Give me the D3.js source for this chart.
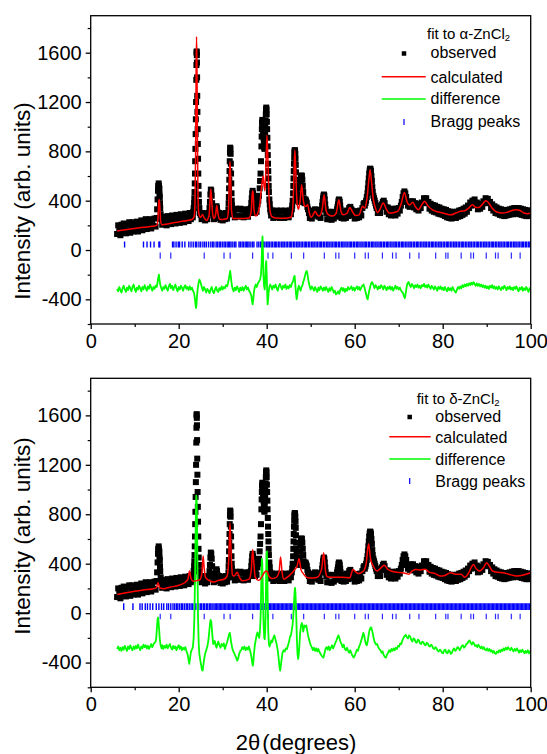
<!DOCTYPE html>
<html><head><meta charset="utf-8">
<script src="https://cdn.jsdelivr.net/npm/d3@7"></script>
<style>body{margin:0;background:#fff} text{font-family:"Liberation Sans",Arial,Helvetica,sans-serif;fill:#000}</style>
</head><body><svg id="c" width="547" height="754"></svg>
<script>
const xTicks = [0,20,40,60,80,100];
const xMinor = [10,30,50,70,90];
const yTicks = [-400,0,400,800,1200,1600];
const yMinor = [-600,-200,200,600,1000,1400,1800];
const legendLabels = ["observed","calculated","difference","Bragg peaks"];
const phaseNames = ["α","δ"];

// observed intensity (same measurement in both panels): [2theta, counts]
const observed = [[6,130],[6.25,200],[6.5,165],[6.75,120],[7,205],[7.25,150],[7.5,215],[7.75,170],[8,135],[8.25,210],[8.5,160],[8.75,225],[9,140],[9.25,195],[9.5,225],[9.75,150],[10,210],[10.25,165],[10.5,230],[10.75,150],[11,215],[11.25,175],[11.5,240],[11.75,160],[12,225],[12.25,180],[12.5,250],[12.75,170],[13,235],[13.25,190],[13.5,250],[13.75,175],[14,235],[14.25,195],[14.5,255],[14.75,190],
[15,260],[15.1,330],[15.2,410],[15.3,480],[15.35,520],[15.4,500],[15.45,540],[15.5,520],[15.55,490],[15.6,500],[15.65,450],[15.7,430],[15.75,380],[15.8,340],[15.9,290],[16,250],
[16.25,205],[16.5,270],[16.75,215],[17,260],[17.25,200],[17.5,275],[17.75,225],[18,265],[18.25,210],[18.5,280],[18.75,230],[19,270],[19.25,215],[19.5,285],[19.75,235],[20,275],[20.25,220],[20.5,290],[20.75,240],[21,280],[21.25,225],[21.5,295],[21.75,245],[22,285],[22.25,235],[22.5,300],[22.75,250],[23,290],[23.2,265],
[23.3,310],[23.4,340],[23.5,380],[23.55,420],[23.6,470],[23.65,540],[23.7,620],[23.75,720],[23.8,820],[23.85,940],[23.9,1060],[23.95,1200],[24,1380],[24.03,1500],[24.06,1600],[24.09,1610],[24.12,1580],[24.15,1520],[24.18,1400],[24.21,1250],[24.25,1120],[24.3,980],[24.35,860],[24.4,740],[24.45,620],[24.5,520],[24.55,450],[24.6,390],[24.7,340],[24.8,300],
[25,285],[25.2,250],[25.4,300],[25.6,255],[25.8,295],[26,240],[26.25,290],[26.5,250],[26.75,300],
[27,340],[27.1,390],[27.2,450],[27.3,490],[27.4,480],[27.5,440],[27.6,380],[27.7,320],[27.85,280],
[28,250],[28.2,300],[28.4,320],[28.5,345],[28.6,355],[28.7,340],[28.8,310],[29,260],[29.25,300],[29.5,245],[29.75,295],[30,240],[30.25,290],[30.5,250],[30.75,300],[31,255],[31.15,290],
[31.3,330],[31.35,380],[31.4,430],[31.45,500],[31.5,570],[31.55,640],[31.6,720],[31.65,790],[31.7,830],[31.75,820],[31.8,780],[31.85,700],[31.9,620],[31.95,540],[32,460],[32.05,400],[32.1,360],[32.2,320],[32.3,290],
[32.5,320],[32.75,265],[33,335],[33.25,280],[33.5,330],[33.75,270],[34,335],[34.25,275],[34.5,325],[34.75,265],[35,330],[35.25,280],[35.5,320],[35.75,270],[36,330],[36.2,300],
[36.4,340],[36.5,380],[36.6,420],[36.7,460],[36.8,480],[36.9,460],[37,420],[37.1,370],[37.2,330],[37.35,300],
[37.5,340],[37.7,310],[37.9,370],[38.1,400],[38.25,440],[38.4,500],[38.5,560],[38.6,620],[38.7,720],[38.8,840],[38.85,920],[38.9,980],[38.95,1030],[39,1055],[39.05,1040],[39.1,1010],[39.15,990],[39.2,960],[39.25,940],[39.3,910],[39.35,880],[39.4,850],[39.45,830],[39.5,820],[39.55,850],[39.6,900],[39.65,950],[39.7,1000],[39.75,1050],[39.8,1100],[39.85,1140],[39.9,1155],[39.95,1140],[40,1100],[40.05,1040],[40.1,980],[40.15,910],[40.2,840],[40.25,770],[40.3,700],[40.35,640],[40.4,580],[40.45,520],[40.5,470],[40.6,410],[40.7,370],[40.8,330],[40.9,310],[41,280],
[41.25,320],[41.5,260],[41.75,315],[42,265],[42.25,320],[42.5,270],[42.75,315],[43,260],[43.25,320],[43.5,265],[43.75,310],[44,260],[44.25,320],[44.5,270],[44.75,315],[45,265],[45.25,320],[45.5,290],
[45.7,330],[45.8,360],[45.9,400],[46,460],[46.05,520],[46.1,580],[46.15,640],[46.2,700],[46.25,750],[46.3,790],[46.35,805],[46.4,810],[46.45,800],[46.5,780],[46.55,740],[46.6,690],[46.65,630],[46.7,570],[46.75,520],[46.8,480],[46.9,440],[47,420],[47.1,400],[47.2,410],[47.3,390],[47.4,420],[47.5,450],[47.6,500],[47.7,550],[47.8,590],[47.9,605],[48,600],[48.1,570],[48.2,520],[48.3,470],[48.4,420],[48.5,390],[48.6,380],[48.7,400],[48.8,410],[48.9,400],[49,390],[49.1,380],[49.25,350],[49.4,330],
[49.6,300],[49.8,260],[50,310],[50.25,255],[50.5,320],[50.75,280],[51,330],[51.25,290],[51.5,325],[51.75,270],[52,300],[52.25,260],
[52.5,330],[52.6,360],[52.7,390],[52.8,420],[52.9,440],[53,450],[53.1,440],[53.2,410],[53.3,370],[53.4,330],[53.55,300],
[53.75,250],[54,310],[54.25,250],[54.5,305],[54.75,245],[55,310],[55.25,255],[55.5,305],[55.75,270],
[56,330],[56.1,350],[56.2,370],[56.3,395],[56.4,410],[56.5,405],[56.6,390],[56.7,360],[56.8,330],[56.9,310],
[57,260],[57.25,310],[57.5,255],[57.75,310],[58,260],[58.25,320],[58.5,275],[58.75,340],[59,350],[59.2,330],[59.4,320],[59.6,280],[59.8,310],[60,255],[60.25,310],[60.5,260],[60.75,315],[61,265],[61.25,320],[61.5,280],[61.75,340],
[62,370],[62.15,380],[62.3,360],[62.45,380],[62.6,400],[62.75,430],[62.9,460],[63,500],[63.1,540],[63.2,580],[63.3,620],[63.4,645],[63.5,660],[63.6,655],[63.7,640],[63.8,600],[63.9,560],[64,510],[64.1,470],[64.25,440],[64.4,420],[64.55,400],[64.7,380],[64.85,360],[65,340],
[65.25,300],[65.5,340],[65.75,300],[66,350],[66.2,370],[66.4,390],[66.6,400],[66.8,380],[67,350],[67.25,310],[67.5,345],[67.75,290],[68,330],[68.25,280],[68.5,335],[68.75,285],[69,330],[69.25,280],[69.5,335],[69.75,295],[70,340],
[70.25,320],[70.5,360],[70.7,390],[70.9,430],[71.1,460],[71.3,475],[71.5,460],[71.7,430],[71.9,390],[72.1,360],
[72.25,390],[72.5,350],[72.75,395],[73,370],[73.25,395],[73.5,345],[73.75,380],[74,330],[74.25,375],[74.5,320],[74.75,370],[75,340],[75.25,385],[75.5,380],[75.75,420],[76,405],[76.25,420],[76.5,380],[76.75,390],[77,335],
[77.25,375],[77.5,320],[77.75,365],[78,310],[78.25,360],[78.5,305],[78.75,350],[79,295],[79.25,345],[79.5,290],[79.75,335],[80,285],[80.25,330],[80.5,275],[80.75,325],[81,265],[81.25,315],[81.5,260],[81.75,310],[82,255],[82.25,305],[82.5,265],[82.75,310],[83,260],[83.25,310],[83.5,270],[83.75,320],[84,275],[84.25,325],[84.5,285],[84.75,335],[85,295],
[85.25,345],[85.5,310],[85.75,360],[86,340],[86.25,385],[86.5,360],[86.75,400],[87,370],[87.25,410],[87.5,365],[87.75,385],[88,330],[88.25,370],[88.5,335],[88.75,375],[89,350],[89.25,395],[89.5,380],[89.75,420],[90,395],[90.25,415],[90.5,380],[90.75,390],[91,340],
[91.25,370],[91.5,320],[91.75,355],[92,300],[92.25,345],[92.5,295],[92.75,335],[93,285],[93.25,330],[93.5,280],[93.75,325],[94,275],[94.25,320],[94.5,280],[94.75,325],[95,285],[95.25,330],[95.5,290],[95.75,335],[96,290],[96.25,340],[96.5,295],[96.75,340],[97,295],[97.25,340],[97.5,290],[97.75,335],[98,285],[98.25,330],[98.5,280],[98.75,325],[99,275],[99.25,320],[99.5,275],[99.75,320],[100,280]];

// calculated profile, fit to alpha-ZnCl2
const calcAlpha = [[6,155],[8,165],[10,175],[12,185],[14,192],[15,200],[15.3,260],[15.5,400],[15.6,410],[15.75,330],[15.9,230],[16.2,205],[18,215],[20,228],[22,240],[23,247],[23.5,270],[23.7,380],[23.85,800],[23.95,1400],[24.05,1730],[24.15,1500],[24.25,900],[24.4,420],[24.6,290],[25,265],[25.4,287],[25.8,260],[26.3,240],[26.9,280],[27.15,420],[27.3,495],[27.45,430],[27.7,300],[28,255],[28.4,290],[28.65,360],[28.9,300],[29.3,250],[30,248],[31,255],[31.3,320],[31.5,560],[31.65,720],[31.8,600],[32,320],[32.4,255],[34,255],[36,260],[36.5,320],[36.75,480],[36.9,470],[37.1,330],[37.5,275],[38,300],[38.4,360],[38.8,500],[39,560],[39.2,600],[39.4,520],[39.6,480],[39.85,700],[40.05,930],[40.25,760],[40.5,450],[40.8,310],[41.2,270],[42,260],[44,258],[45.5,265],[45.9,330],[46.2,600],[46.4,810],[46.6,640],[46.9,380],[47.2,330],[47.6,400],[47.95,530],[48.25,420],[48.6,355],[49,355],[49.3,370],[49.7,300],[50.1,265],[50.6,290],[51,315],[51.4,290],[51.9,275],[52.6,330],[53.05,448],[53.5,320],[54,287],[55,275],[55.8,300],[56.4,408],[56.9,310],[57.4,285],[58.3,300],[58.9,345],[59.5,310],[60.2,279],[61,285],[61.8,354],[62.3,340],[62.8,420],[63.3,600],[63.5,650],[63.8,560],[64.2,420],[64.6,354],[65.2,305],[65.6,320],[66.5,381],[67.2,330],[67.8,300],[69,305],[69.8,315],[70.6,380],[71.3,467],[71.9,390],[72.5,365],[73.2,387],[73.8,350],[74.5,327],[75.3,370],[75.9,395],[76.6,360],[77.7,325],[78.8,310],[80,300],[81,290],[81.8,285],[83,300],[84,314],[85,318],[85.9,340],[86.8,368],[87.5,345],[88.2,345],[89,370],[89.8,400],[90.5,380],[91.2,340],[92.2,310],[93.5,300],[94.5,305],[95.3,315],[96.7,327],[97.6,320],[98.5,300],[99.3,295],[100,300]];

// difference curve (offset), fit to alpha-ZnCl2
const diffAlpha = [[6,-315],[6.25,-335],[6.5,-300],[6.75,-325],[7,-345],[7.25,-310],[7.5,-290],[7.75,-320],[8,-340],[8.25,-305],[8.5,-325],[8.75,-290],[9,-310],[9.25,-335],[9.5,-300],[9.75,-280],[10,-315],[10.25,-340],[10.5,-305],[10.75,-320],[11,-290],[11.25,-310],[11.5,-335],[11.75,-300],[12,-320],[12.25,-285],[12.5,-310],[12.75,-330],[13,-295],[13.25,-315],[13.5,-280],[13.75,-305],[14,-330],[14.25,-300],[14.5,-315],[14.75,-290],[15,-300],[15.2,-260],[15.4,-215],[15.5,-200],[15.6,-230],[15.8,-280],[16,-305],[16.25,-330],[16.5,-300],[16.75,-315],[17,-285],[17.25,-310],[17.5,-330],[17.75,-295],[18,-275],[18.25,-310],[18.5,-290],[18.75,-325],[19,-300],[19.25,-280],[19.5,-315],[19.75,-335],[20,-300],[20.25,-320],[20.5,-290],[20.75,-305],[21,-330],[21.25,-300],[21.5,-285],[21.75,-315],[22,-300],[22.25,-325],[22.5,-295],[22.75,-320],[23,-305],[23.25,-330],[23.5,-350],[23.7,-400],[23.85,-450],[23.95,-470],[24.05,-440],[24.15,-380],[24.3,-320],[24.5,-270],[24.7,-240],[24.9,-255],[25.1,-280],[25.3,-310],[25.5,-330],[25.75,-300],[26,-320],[26.25,-345],[26.5,-315],[26.75,-330],[27,-350],[27.25,-320],[27.5,-300],[27.75,-335],[28,-350],[28.25,-320],[28.5,-300],[28.75,-330],[29,-340],[29.25,-310],[29.5,-325],[29.75,-295],[30,-320],[30.25,-300],[30.5,-310],[30.75,-285],[31,-295],[31.2,-270],[31.4,-235],[31.6,-190],[31.7,-170],[31.8,-200],[31.95,-250],[32.1,-290],[32.3,-320],[32.5,-335],[32.75,-305],[33,-325],[33.25,-295],[33.5,-315],[33.75,-340],[34,-305],[34.25,-325],[34.5,-300],[34.75,-330],[35,-310],[35.25,-290],[35.5,-320],[35.75,-305],[36,-330],[36.25,-345],[36.5,-370],[36.65,-410],[36.8,-440],[36.95,-400],[37.1,-340],[37.3,-300],[37.5,-280],[37.75,-300],[38,-270],[38.25,-255],[38.5,-240],[38.7,-200],[38.85,-100],[38.95,50],[39.05,110],[39.15,-20],[39.25,-200],[39.4,-290],[39.55,-320],[39.7,-220],[39.8,-120],[39.9,-90],[40,-200],[40.1,-330],[40.2,-440],[40.3,-410],[40.45,-340],[40.6,-300],[40.8,-280],[41,-295],[41.25,-320],[41.5,-290],[41.75,-305],[42,-280],[42.25,-310],[42.5,-330],[42.75,-295],[43,-275],[43.25,-300],[43.5,-320],[43.75,-290],[44,-305],[44.25,-280],[44.5,-315],[44.75,-295],[45,-310],[45.25,-285],[45.5,-300],[45.75,-270],[46,-250],[46.2,-220],[46.35,-210],[46.5,-280],[46.65,-350],[46.8,-400],[46.95,-370],[47.1,-320],[47.3,-290],[47.5,-310],[47.7,-330],[47.9,-300],[48.1,-290],[48.3,-260],[48.5,-240],[48.7,-210],[48.9,-180],[49.1,-170],[49.25,-190],[49.4,-230],[49.6,-270],[49.8,-300],[50,-320],[50.25,-295],[50.5,-310],[50.75,-330],[51,-300],[51.25,-320],[51.5,-340],[51.75,-305],[52,-325],[52.25,-295],[52.5,-310],[52.75,-330],[53,-305],[53.25,-325],[53.5,-300],[53.75,-320],[54,-340],[54.25,-310],[54.5,-330],[54.75,-300],[55,-320],[55.25,-345],[55.5,-330],[55.75,-360],[56,-350],[56.25,-335],[56.5,-355],[56.75,-320],[57,-305],[57.25,-330],[57.5,-310],[57.75,-340],[58,-315],[58.25,-330],[58.5,-300],[58.75,-320],[59,-310],[59.25,-295],[59.5,-325],[59.75,-305],[60,-330],[60.25,-310],[60.5,-295],[60.75,-320],[61,-300],[61.25,-325],[61.5,-305],[61.75,-290],[62,-280],[62.2,-300],[62.4,-330],[62.6,-360],[62.8,-390],[62.95,-400],[63.1,-370],[63.3,-330],[63.5,-300],[63.7,-275],[63.9,-260],[64.1,-270],[64.3,-290],[64.5,-310],[64.75,-285],[65,-300],[65.25,-320],[65.5,-295],[65.75,-310],[66,-285],[66.25,-300],[66.5,-320],[66.75,-290],[67,-305],[67.25,-325],[67.5,-300],[67.75,-315],[68,-295],[68.25,-320],[68.5,-300],[68.75,-330],[69,-310],[69.25,-290],[69.5,-315],[69.75,-300],[70,-320],[70.25,-305],[70.5,-325],[70.75,-340],[71,-350],[71.2,-375],[71.4,-390],[71.6,-350],[71.8,-300],[72,-270],[72.25,-260],[72.5,-285],[72.75,-300],[73,-275],[73.25,-290],[73.5,-310],[73.75,-285],[74,-300],[74.25,-280],[74.5,-305],[74.75,-290],[75,-310],[75.25,-285],[75.5,-295],[75.75,-275],[76,-300],[76.25,-285],[76.5,-305],[76.75,-280],[77,-300],[77.25,-315],[77.5,-290],[77.75,-305],[78,-320],[78.25,-295],[78.5,-310],[78.75,-330],[79,-300],[79.25,-315],[79.5,-295],[79.75,-320],[80,-305],[80.25,-325],[80.5,-300],[80.75,-320],[81,-335],[81.25,-305],[81.5,-325],[81.75,-310],[82,-330],[82.25,-300],[82.5,-320],[82.75,-335],[83,-345],[83.25,-320],[83.5,-300],[83.75,-315],[84,-295],[84.25,-310],[84.5,-285],[84.75,-300],[85,-280],[85.25,-295],[85.5,-275],[85.75,-290],[86,-270],[86.25,-285],[86.5,-265],[86.75,-280],[87,-260],[87.25,-275],[87.5,-290],[87.75,-270],[88,-290],[88.25,-275],[88.5,-295],[88.75,-280],[89,-300],[89.25,-285],[89.5,-305],[89.75,-290],[90,-310],[90.25,-295],[90.5,-315],[90.75,-290],[91,-305],[91.25,-285],[91.5,-310],[91.75,-295],[92,-315],[92.25,-300],[92.5,-320],[92.75,-295],[93,-310],[93.25,-325],[93.5,-300],[93.75,-315],[94,-290],[94.25,-305],[94.5,-325],[94.75,-300],[95,-315],[95.25,-295],[95.5,-320],[95.75,-305],[96,-325],[96.25,-300],[96.5,-315],[96.75,-295],[97,-320],[97.25,-335],[97.5,-305],[97.75,-320],[98,-300],[98.25,-330],[98.5,-310],[98.75,-325],[99,-300],[99.25,-320],[99.5,-340],[99.75,-310],[100,-320]];

// calculated profile, fit to delta-ZnCl2
const calcDelta = [[6,150],[8,165],[10,178],[12,188],[14,196],[14.9,205],[15.3,245],[15.7,205],[16.5,198],[18,210],[20,225],[21.5,250],[22.1,275],[22.45,340],[22.8,280],[23.3,258],[24,262],[24.8,270],[25.3,330],[25.55,462],[25.8,360],[26.1,290],[27,262],[28,252],[29,265],[30.3,274],[31,300],[31.4,450],[31.65,730],[31.9,500],[32.2,310],[32.6,300],[33.3,330],[33.8,290],[34.5,262],[36,275],[36.5,350],[36.8,515],[37.05,420],[37.4,290],[38.2,265],[39,300],[39.5,330],[40,340],[40.5,300],[41.2,280],[42,285],[42.8,330],[43.15,454],[43.5,330],[43.9,275],[45,300],[45.8,327],[46.4,354],[46.9,380],[47.35,440],[47.8,350],[48.3,320],[49.3,287],[50.5,285],[51.5,290],[52.5,360],[52.95,489],[53.4,330],[53.8,295],[55,290],[57,290],[58.9,287],[59.6,354],[60.2,335],[60.8,320],[62,341],[62.6,400],[63.15,561],[63.6,440],[64.2,381],[65.1,341],[65.8,360],[66.7,387],[67.5,355],[68.3,341],[69.5,330],[70.7,327],[71.7,320],[72.3,314],[73,340],[73.8,354],[75,350],[76,355],[77,330],[78.2,322],[79.5,300],[80.5,305],[81.8,327],[83,315],[84.2,314],[85,290],[85.8,320],[86.5,370],[87,394],[87.6,360],[88.3,341],[89.3,370],[90,408],[90.6,380],[91.3,341],[92.5,330],[93.7,327],[95,315],[96.9,300],[98.5,310],[100,327]];

// difference curve (offset), fit to delta-ZnCl2
const diffDelta = [[6,-290],[6.25,-270],[6.5,-300],[6.75,-280],[7,-305],[7.25,-275],[7.5,-295],[7.75,-265],[8,-285],[8.25,-305],[8.5,-270],[8.75,-290],[9,-260],[9.25,-285],[9.5,-300],[9.75,-270],[10,-290],[10.25,-265],[10.5,-285],[10.75,-255],[11,-280],[11.25,-300],[11.5,-270],[11.75,-285],[12,-255],[12.25,-275],[12.5,-260],[12.75,-285],[13,-265],[13.25,-290],[13.5,-270],[13.75,-250],[14,-275],[14.25,-255],[14.5,-240],[14.75,-230],[14.9,-200],[15.05,-120],[15.2,-50],[15.3,-35],[15.4,-60],[15.55,-130],[15.7,-210],[15.9,-260],[16.1,-285],[16.3,-260],[16.5,-290],[16.75,-265],[17,-280],[17.25,-255],[17.5,-285],[17.75,-265],[18,-250],[18.25,-280],[18.5,-295],[18.75,-265],[19,-285],[19.25,-270],[19.5,-300],[19.75,-275],[20,-260],[20.25,-290],[20.5,-270],[20.75,-300],[21,-280],[21.25,-295],[21.5,-275],[21.75,-305],[22,-330],[22.2,-370],[22.4,-410],[22.6,-360],[22.8,-310],[23,-295],[23.2,-280],[23.4,-200],[23.55,-50],[23.7,250],[23.8,550],[23.9,800],[24,950],[24.1,900],[24.2,620],[24.3,250],[24.4,-50],[24.55,-250],[24.7,-330],[24.9,-380],[25.1,-420],[25.3,-460],[25.45,-465],[25.6,-420],[25.8,-370],[26,-330],[26.25,-300],[26.5,-270],[26.75,-220],[26.95,-150],[27.1,-90],[27.25,-55],[27.4,-70],[27.55,-130],[27.7,-200],[27.85,-250],[28,-240],[28.2,-225],[28.4,-260],[28.6,-280],[28.8,-250],[29,-230],[29.25,-260],[29.5,-280],[29.75,-250],[30,-265],[30.25,-245],[30.5,-290],[30.75,-260],[31,-235],[31.25,-200],[31.45,-170],[31.6,-160],[31.75,-190],[31.9,-230],[32.1,-270],[32.3,-300],[32.55,-320],[32.8,-340],[33.05,-360],[33.3,-385],[33.5,-370],[33.7,-335],[33.95,-310],[34.2,-300],[34.45,-275],[34.7,-290],[34.95,-270],[35.2,-300],[35.45,-280],[35.7,-295],[35.95,-270],[36.2,-300],[36.4,-330],[36.6,-370],[36.75,-410],[36.85,-425],[36.95,-400],[37.1,-330],[37.3,-260],[37.5,-220],[37.7,-180],[37.9,-155],[38.1,-180],[38.3,-200],[38.45,-150],[38.6,-50],[38.7,100],[38.8,300],[38.9,440],[39,400],[39.1,250],[39.2,50],[39.3,-100],[39.45,-200],[39.55,-210],[39.65,-150],[39.75,-20],[39.85,250],[39.95,480],[40.05,500],[40.15,300],[40.25,50],[40.35,-150],[40.5,-250],[40.65,-270],[40.85,-250],[41.05,-220],[41.25,-235],[41.5,-200],[41.75,-180],[42,-215],[42.25,-250],[42.5,-300],[42.7,-360],[42.9,-430],[43.05,-465],[43.2,-430],[43.4,-370],[43.6,-320],[43.85,-300],[44.1,-310],[44.35,-285],[44.6,-290],[44.85,-260],[45.1,-230],[45.3,-190],[45.5,-180],[45.7,-140],[45.9,-90],[46.05,-20],[46.2,80],[46.35,180],[46.45,205],[46.55,150],[46.7,0],[46.85,-200],[47,-330],[47.15,-370],[47.3,-330],[47.45,-250],[47.6,-160],[47.8,-100],[48,-80],[48.15,-100],[48.3,-150],[48.45,-120],[48.6,-100],[48.8,-110],[49,-100],[49.2,-140],[49.4,-180],[49.6,-210],[49.8,-235],[50,-260],[50.25,-275],[50.5,-300],[50.75,-280],[51,-305],[51.25,-285],[51.5,-310],[51.75,-290],[52,-315],[52.25,-330],[52.5,-345],[52.75,-355],[52.9,-360],[53.1,-330],[53.35,-290],[53.6,-275],[53.85,-295],[54.1,-270],[54.35,-300],[54.6,-280],[54.85,-260],[55.1,-285],[55.35,-265],[55.6,-240],[55.85,-220],[56.1,-195],[56.3,-180],[56.5,-200],[56.75,-230],[57,-250],[57.25,-275],[57.5,-255],[57.75,-290],[58,-300],[58.25,-280],[58.5,-305],[58.75,-320],[59,-300],[59.25,-325],[59.5,-345],[59.75,-360],[60,-345],[60.25,-320],[60.5,-295],[60.75,-305],[61,-270],[61.25,-250],[61.5,-220],[61.75,-190],[61.95,-160],[62.15,-180],[62.35,-220],[62.55,-250],[62.75,-260],[62.95,-230],[63.15,-180],[63.35,-140],[63.55,-120],[63.75,-115],[63.95,-140],[64.15,-170],[64.35,-210],[64.6,-240],[64.85,-255],[65.1,-250],[65.35,-275],[65.6,-290],[65.85,-300],[66.1,-320],[66.35,-310],[66.6,-340],[66.85,-355],[67.1,-360],[67.35,-335],[67.6,-320],[67.85,-300],[68.1,-315],[68.35,-290],[68.6,-305],[68.85,-285],[69.1,-300],[69.35,-280],[69.6,-290],[69.85,-265],[70.1,-270],[70.35,-245],[70.6,-250],[70.85,-220],[71.1,-200],[71.35,-185],[71.6,-175],[71.85,-195],[72.1,-205],[72.35,-180],[72.6,-190],[72.85,-215],[73.1,-230],[73.35,-205],[73.6,-210],[73.85,-235],[74.1,-240],[74.35,-215],[74.6,-220],[74.85,-245],[75.1,-250],[75.35,-230],[75.6,-235],[75.85,-255],[76.1,-260],[76.35,-240],[76.6,-245],[76.85,-265],[77.1,-270],[77.35,-255],[77.6,-265],[77.85,-285],[78.1,-290],[78.35,-275],[78.6,-285],[78.85,-305],[79.1,-310],[79.35,-295],[79.6,-305],[79.85,-320],[80.1,-325],[80.35,-300],[80.6,-295],[80.85,-320],[81.1,-325],[81.35,-300],[81.6,-310],[81.85,-330],[82.1,-320],[82.35,-295],[82.6,-285],[82.85,-305],[83.1,-295],[83.35,-275],[83.6,-280],[83.85,-300],[84.1,-285],[84.35,-265],[84.6,-260],[84.85,-280],[85.1,-270],[85.35,-250],[85.6,-245],[85.85,-230],[86.1,-220],[86.35,-240],[86.6,-255],[86.85,-235],[87.1,-245],[87.35,-265],[87.6,-260],[87.85,-275],[88.1,-255],[88.35,-270],[88.6,-285],[88.85,-270],[89.1,-290],[89.35,-275],[89.6,-295],[89.85,-300],[90.1,-285],[90.35,-305],[90.6,-290],[90.85,-310],[91.1,-300],[91.35,-320],[91.6,-305],[91.85,-325],[92.1,-330],[92.35,-310],[92.6,-320],[92.85,-300],[93.1,-315],[93.35,-295],[93.6,-305],[93.85,-285],[94.1,-300],[94.35,-280],[94.6,-295],[94.85,-275],[95.1,-290],[95.35,-300],[95.6,-280],[95.85,-295],[96.1,-310],[96.35,-290],[96.6,-305],[96.85,-285],[97.1,-300],[97.35,-320],[97.6,-300],[97.85,-315],[98.1,-295],[98.35,-310],[98.6,-325],[98.85,-305],[99.1,-320],[99.35,-300],[99.6,-325],[99.85,-310],[100,-320]];

// Bragg reflection positions (2theta)
const braggAlpha = [7.7,12.0,12.8,13.6,14.4,15.5,15.7,18.6,18.9,19.4,19.9,20.2,20.8,21.4,22.3,22.8,23.3,23.8,24.1,24.6,25.0,25.5,25.9,26.3,26.8,27.3,27.7,28.0,28.5,28.8,29.2,29.5,29.9,30.3,30.6,31.0,31.3,31.6,31.9,32.3,32.7,33.0,33.7,34.0,34.4,34.7,35.1,35.4,35.7,36.0,36.4,36.8,37.1,37.8,38.2,38.6,38.9,39.3,39.6,40.0,40.3,40.6,41.0,41.3,41.7,42.0,42.3,42.7,43.0,43.4,43.7,44.0,44.4,44.7,45.1,45.4,45.7,46.1,46.4,46.8,47.1,47.4,47.8,48.1,48.5,48.8,49.1,49.5,49.8,50.2,50.5,50.8,51.2,51.5,51.9,52.2,52.5,52.9,53.2,53.6,53.9,54.2,54.6,54.9,55.3,55.6,55.9,56.3,56.6,57.0,57.3,57.6,58.0,58.3,58.7,59.0,59.3,59.7,60.0,60.4,60.7,61.0,61.4,61.7,62.1,62.4,62.7,63.1,63.4,63.8,64.1,64.4,64.8,65.1,65.5,65.8,66.1,66.5,66.8,67.2,67.5,67.8,68.2,68.5,68.9,69.2,69.5,69.9,70.2,70.6,70.9,71.2,71.6,71.9,72.3,72.6,72.9,73.3,73.6,74.0,74.3,74.6,75.0,75.3,75.7,76.0,76.3,76.7,77.0,77.4,77.7,78.0,78.4,78.7,79.1,79.4,79.7,80.1,80.4,80.8,81.1,81.4,81.8,82.1,82.5,82.8,83.1,83.5,83.8,84.2,84.5,84.8,85.2,85.5,85.9,86.2,86.5,86.9,87.2,87.6,87.9,88.2,88.6,88.9,89.3,89.6,89.9,90.3,90.6,91.0,91.3,91.6,92.0,92.3,92.7,93.0,93.3,93.7,94.0,94.4,94.7,95.0,95.4,95.7,96.1,96.4,96.7,97.1,97.4,97.8,98.1,98.4,98.8,99.1,99.5,99.8];
const braggDelta = [7.5,9.6,11.2,11.7,12.4,12.9,13.5,14.1,14.9,15.5,16.1,16.6,17.3,17.7,18.2,18.7,19.1,19.5,19.8,20.2,20.6,20.9,21.3,21.7,22.0,22.4,22.8,23.1,23.5,23.8,24.2,24.5,24.9,25.2,25.6,25.9,26.3,26.6,27.0,27.3,27.6,28.0,28.3,28.6,28.9,29.2,29.5,29.8,30.1,30.4,30.7,31.0,31.3,31.6,31.9,32.2,32.5,32.8,33.1,33.4,33.7,34.0,34.3,34.6,34.9,35.2,35.5,35.8,36.1,36.4,36.7,37.0,37.3,37.6,37.9,38.2,38.5,38.8,39.1,39.4,39.7,40.0,40.3,40.6,40.9,41.2,41.5,41.8,42.1,42.4,42.7,43.0,43.3,43.6,43.9,44.2,44.5,44.8,45.1,45.4,45.7,46.0,46.3,46.6,46.9,47.2,47.5,47.8,48.1,48.4,48.7,49.0,49.3,49.6,49.9,50.2,50.5,50.8,51.1,51.4,51.7,52.0,52.3,52.6,52.9,53.2,53.5,53.8,54.1,54.4,54.7,55.0,55.3,55.6,55.9,56.2,56.5,56.8,57.1,57.4,57.7,58.0,58.3,58.6,58.9,59.2,59.5,59.8,60.1,60.4,60.7,61.0,61.3,61.6,61.9,62.2,62.5,62.8,63.1,63.4,63.7,64.0,64.3,64.6,64.9,65.2,65.5,65.8,66.1,66.4,66.7,67.0,67.3,67.6,67.9,68.2,68.5,68.8,69.1,69.4,69.7,70.0,70.3,70.6,70.9,71.2,71.5,71.8,72.1,72.4,72.7,73.0,73.3,73.6,73.9,74.2,74.5,74.8,75.1,75.4,75.7,76.0,76.3,76.6,76.9,77.2,77.5,77.8,78.1,78.4,78.7,79.0,79.3,79.6,79.9,80.2,80.5,80.8,81.1,81.4,81.7,82.0,82.3,82.6,82.9,83.2,83.5,83.8,84.1,84.4,84.7,85.0,85.3,85.6,85.9,86.2,86.5,86.8,87.1,87.4,87.7,88.0,88.3,88.6,88.9,89.2,89.5,89.8,90.1,90.4,90.7,91.0,91.3,91.6,91.9,92.2,92.5,92.8,93.1,93.4,93.7,94.0,94.3,94.6,94.9,95.2,95.5,95.8,96.1,96.4,96.7,97.0,97.3,97.6,97.9,98.2,98.5,98.8,99.1,99.4,99.7,100.0];
const braggSecond = [15.8,18.2,25.8,30.3,31.7,36.8,40.3,41.4,45.6,48.4,53.1,55.7,56.4,60.0,62.4,63.1,66.3,68.6,69.4,72.5,74.6,78.4,80.7,81.2,84.2,86.4,87.0,89.9,92.0,92.6,95.6,97.6];

const svg = d3.select("#c");
const X0 = 90.7, X1 = 530.7;

const panels = [
  {top:15.7, bottom:324, calc:calcAlpha, diff:diffAlpha, bragg:braggAlpha, phase:phaseNames[0],
   row1:[20,70], row2:[-20,-70], titleY:201,
   lg:{titleX:427, titleY:38.5, sqX:404, textX:430.5, lineX:[381.7,425.7], ys:[53.5,76.7,99,122], base:[58.3,82.6,104.4,127]}},
  {top:378.3, bottom:687.3, calc:calcDelta, diff:diffDelta, bragg:braggDelta, phase:phaseNames[1],
   row1:[25,80], row2:[-5,-50], titleY:536,
   lg:{titleX:416.7, titleY:404, sqX:409.7, textX:435.3, lineX:[389.3,430.7], ys:[417,436.7,459,481], base:[422.3,443.3,465,486.7]}}
];

panels.forEach((p, i) => {
  const x = d3.scaleLinear().domain([0,100]).range([X0, X1]);
  const y = d3.scaleLinear().domain([-600,1900]).range([p.bottom, p.top]);
  const g = svg.append("g");
  const clipId = "clip" + i;
  svg.append("clipPath").attr("id", clipId).append("rect")
    .attr("x", X0).attr("y", p.top).attr("width", X1 - X0).attr("height", p.bottom - p.top);
  const pg = g.append("g").attr("clip-path", `url(#${clipId})`);

  // Bragg ticks
  pg.append("g").selectAll("line").data(p.bragg).join("line")
    .attr("x1", d => x(d)).attr("x2", d => x(d))
    .attr("y1", y(p.row1[0])).attr("y2", y(p.row1[1]))
    .attr("stroke", "#0000ff").attr("stroke-width", 1.4);
  pg.append("g").selectAll("line").data(braggSecond).join("line")
    .attr("x1", d => x(d)).attr("x2", d => x(d))
    .attr("y1", y(p.row2[0])).attr("y2", y(p.row2[1]))
    .attr("stroke", "#2a2aff").attr("stroke-width", 1.2);

  // observed squares
  const s = 6;
  pg.append("g").selectAll("rect").data(observed).join("rect")
    .attr("x", d => x(d[0]) - s/2).attr("y", d => y(d[1]) - s/2)
    .attr("width", s).attr("height", s).attr("fill", "#000");

  const line = d3.line().x(d => x(d[0])).y(d => y(d[1])).curve(d3.curveMonotoneX);
  pg.append("path").datum(p.diff).attr("d", d3.line().x(d => x(d[0])).y(d => y(d[1])))
    .attr("fill", "none").attr("stroke", "#00ff00").attr("stroke-width", 1.8).attr("stroke-linejoin","round");
  pg.append("path").datum(p.calc).attr("d", line)
    .attr("fill", "none").attr("stroke", "#ff0000").attr("stroke-width", 1.5);

  // frame
  g.append("rect").attr("x", X0).attr("y", p.top).attr("width", X1 - X0).attr("height", p.bottom - p.top)
    .attr("fill", "none").attr("stroke", "#000").attr("stroke-width", 1.3);

  // axes
  const ya = g.append("g").attr("transform", `translate(${X0},0)`)
    .call(d3.axisLeft(y).tickValues(yTicks).tickSize(5).tickPadding(4).tickFormat(d => String(d)));
  ya.select(".domain").remove();
  ya.selectAll("text").attr("font-size", 20).attr("font-family", "Liberation Sans, Arial, sans-serif").attr("fill","#000");
  ya.selectAll("line").attr("stroke-width", 1.3);
  const ym = g.append("g").attr("transform", `translate(${X0},0)`)
    .call(d3.axisLeft(y).tickValues(yMinor).tickSize(3).tickFormat(""));
  ym.select(".domain").remove();
  ym.selectAll("line").attr("stroke-width", 1.2);

  const xa = g.append("g").attr("transform", `translate(0,${p.bottom})`)
    .call(d3.axisBottom(x).tickValues(xTicks).tickSize(5).tickPadding(5).tickFormat(d => String(d)));
  xa.select(".domain").remove();
  xa.selectAll("text").attr("font-size", 20).attr("font-family", "Liberation Sans, Arial, sans-serif").attr("fill","#000");
  xa.selectAll("line").attr("stroke-width", 1.3);
  const xm = g.append("g").attr("transform", `translate(0,${p.bottom})`)
    .call(d3.axisBottom(x).tickValues(xMinor).tickSize(3).tickFormat(""));
  xm.select(".domain").remove();
  xm.selectAll("line").attr("stroke-width", 1.2);

  // y title
  g.append("text").attr("transform", `translate(29.5,${p.titleY}) rotate(-90)`)
    .attr("text-anchor", "middle").attr("font-size", 22.5).text("Intensity (arb. units)");

  // legend
  const L = p.lg;
  const t = g.append("text").attr("x", L.titleX).attr("y", L.titleY).attr("font-size", 15);
  t.append("tspan").text(`fit to ${p.phase}-ZnCl`);
  t.append("tspan").attr("font-size", 9.5).attr("dy", 2).text("2");
  g.append("rect").attr("x", L.sqX - 2.25).attr("y", L.ys[0] - 2.25).attr("width", 4.5).attr("height", 4.5).attr("fill", "#000");
  g.append("line").attr("x1", L.lineX[0]).attr("x2", L.lineX[1]).attr("y1", L.ys[1]).attr("y2", L.ys[1])
    .attr("stroke", "#ff0000").attr("stroke-width", 1.5);
  g.append("line").attr("x1", L.lineX[0]).attr("x2", L.lineX[1]).attr("y1", L.ys[2]).attr("y2", L.ys[2])
    .attr("stroke", "#00ff00").attr("stroke-width", 1.5);
  g.append("line").attr("x1", L.sqX).attr("x2", L.sqX).attr("y1", L.ys[3] - 3).attr("y2", L.ys[3] + 3)
    .attr("stroke", "#0000ff").attr("stroke-width", 1.2);
  legendLabels.forEach((lab, k) => {
    g.append("text").attr("x", L.textX).attr("y", L.base[k]).attr("font-size", 16).text(lab);
  });
});

// x title
const xt = svg.append("text").attr("x", 296).attr("y", 750).attr("text-anchor", "middle").attr("font-size", 22);
xt.append("tspan").text("2θ");
xt.append("tspan").attr("dx", 2).text("(degrees)");
</script></body></html>
